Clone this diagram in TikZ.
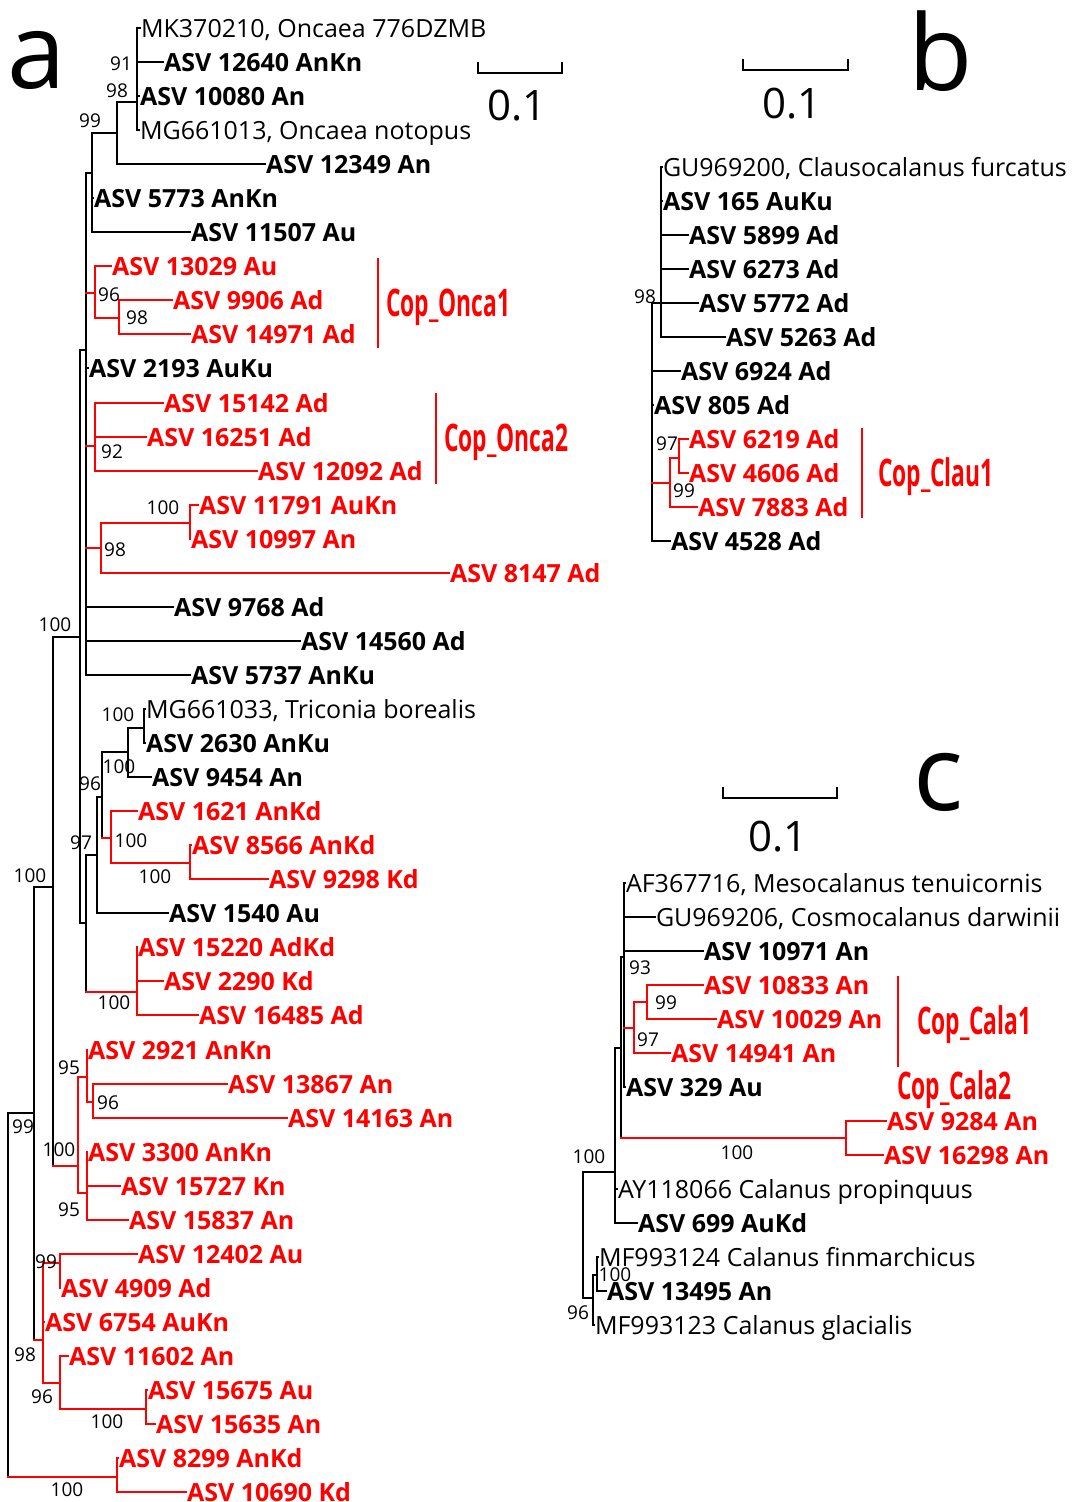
\documentclass[tikz,border=0pt]{standalone}
\usepackage{fontspec}
\setmainfont{Open Sans}
\usepackage{graphicx}
\begin{document}
\begin{tikzpicture}[x=1pt, y=-1pt, line width=2pt, line cap=rect,
    leaf/.style={anchor=west, inner sep=0pt, text height=18pt, text depth=0pt,
      font=\fontsize{25}{30}\selectfont\bfseries},
    rleaf/.style={leaf, text=red},
    ref/.style={leaf, font=\fontsize{25}{30}\selectfont},
    boot/.style={inner sep=0pt, font=\fontsize{19}{22}\selectfont},
    clade/.style={anchor=base west, inner sep=0pt, text=red,
      font=\fontsize{38}{40}\selectfont\bfseries},
    bar/.style={red, line width=1.5pt, line cap=butt},
    panel/.style={anchor=base west, inner sep=0pt, font=\fontsize{105}{110}\selectfont},
    scaletxt/.style={anchor=base, inner sep=0pt, font=\fontsize{42}{46}\selectfont}]
  \useasboundingbox (0,0) rectangle (1079,1502);

  % panel letters and scale bars
  \node[panel] (pa) at (7,88) {a};
  \node[panel] (pb) at (907,90) {b};
  \node[panel] (pc) at (912,810) {c};
  \draw (478,63) -- (478,73) -- (562,73) -- (562,63);
  \node[scaletxt] (sa) at (517,120) {0.1};
  \draw (743,60) -- (743,70) -- (848,70) -- (848,60);
  \node[scaletxt] (sb) at (792,118) {0.1};
  \draw (723,788) -- (723,798) -- (837,798) -- (837,788);
  \node[scaletxt] (sc) at (778,851) {0.1};

  % ---------------- tree a ----------------
  \node[ref]   (aMK)    at (140,28)   {MK370210, Oncaea 776DZMB};
  \node[leaf]  (a12640) at (163,62)   {ASV 12640 AnKn};
  \node[leaf]  (a10080) at (139,96)   {ASV 10080 An};
  \node[ref]   (aMG13)  at (139,130)  {MG661013, Oncaea notopus};
  \node[leaf]  (a12349) at (265,164)  {ASV 12349 An};
  \node[leaf]  (a5773)  at (93,198)   {ASV 5773 AnKn};
  \node[leaf]  (a11507) at (190,232)  {ASV 11507 Au};
  \node[rleaf] (a13029) at (111,266)  {ASV 13029 Au};
  \node[rleaf] (a9906)  at (172,300)  {ASV 9906 Ad};
  \node[rleaf] (a14971) at (190,334)  {ASV 14971 Ad};
  \node[leaf]  (a2193)  at (88,368)   {ASV 2193 AuKu};
  \node[rleaf] (a15142) at (163,403)  {ASV 15142 Ad};
  \node[rleaf] (a16251) at (146,437)  {ASV 16251 Ad};
  \node[rleaf] (a12092) at (257,471)  {ASV 12092 Ad};
  \node[rleaf] (a11791) at (198,505)  {ASV 11791 AuKn};
  \node[rleaf] (a10997) at (190,539)  {ASV 10997 An};
  \node[rleaf] (a8147)  at (449,573)  {ASV 8147 Ad};
  \node[leaf]  (a9768)  at (173,607)  {ASV 9768 Ad};
  \node[leaf]  (a14560) at (300,641)  {ASV 14560 Ad};
  \node[leaf]  (a5737)  at (190,675)  {ASV 5737 AnKu};
  \node[ref]   (aMG33)  at (145,709)  {MG661033, Triconia borealis};
  \node[leaf]  (a2630)  at (145,743)  {ASV 2630 AnKu};
  \node[leaf]  (a9454)  at (151,777)  {ASV 9454 An};
  \node[rleaf] (a1621)  at (137,811)  {ASV 1621 AnKd};
  \node[rleaf] (a8566)  at (191,845)  {ASV 8566 AnKd};
  \node[rleaf] (a9298)  at (268,879)  {ASV 9298 Kd};
  \node[leaf]  (a1540)  at (168,913)  {ASV 1540 Au};
  \node[rleaf] (a15220) at (137,947)  {ASV 15220 AdKd};
  \node[rleaf] (a2290)  at (163,981)  {ASV 2290 Kd};
  \node[rleaf] (a16485) at (198,1015) {ASV 16485 Ad};
  \node[rleaf] (a2921)  at (87,1050)  {ASV 2921 AnKn};
  \node[rleaf] (a13867) at (227,1084) {ASV 13867 An};
  \node[rleaf] (a14163) at (287,1118) {ASV 14163 An};
  \node[rleaf] (a3300)  at (87,1152)  {ASV 3300 AnKn};
  \node[rleaf] (a15727) at (120,1186) {ASV 15727 Kn};
  \node[rleaf] (a15837) at (128,1220) {ASV 15837 An};
  \node[rleaf] (a12402) at (137,1254) {ASV 12402 Au};
  \node[rleaf] (a4909)  at (60,1288)  {ASV 4909 Ad};
  \node[rleaf] (a6754)  at (44,1322)  {ASV 6754 AuKn};
  \node[rleaf] (a11602) at (68,1356)  {ASV 11602 An};
  \node[rleaf] (a15675) at (147,1390) {ASV 15675 Au};
  \node[rleaf] (a15635) at (155,1424) {ASV 15635 An};
  \node[rleaf] (a8299)  at (118,1458) {ASV 8299 AnKd};
  \node[rleaf] (a10690) at (186,1492) {ASV 10690 Kd};

  \coordinate (aR)   at (8,1113);
  \coordinate (aA)   at (34,1113);
  \coordinate (aB)   at (53,887);
  \coordinate (aC)   at (80,637);
  \coordinate (aD)   at (86,350);
  \coordinate (aE)   at (92,173);
  \coordinate (aE2)  at (117,133);
  \coordinate (aE3)  at (137,102);
  \coordinate (aO1)  at (95,293);
  \coordinate (aO1b) at (119,318);
  \coordinate (aO2)  at (95,446);
  \coordinate (aF)   at (101,548);
  \coordinate (aF2)  at (190,523);
  \coordinate (aH)   at (86,923);
  \coordinate (aG)   at (97,855);
  \coordinate (aG2)  at (102,797);
  \coordinate (aG3)  at (128,752);
  \coordinate (aG4)  at (144,728);
  \coordinate (aI)   at (111,838);
  \coordinate (aI2)  at (190,863);
  \coordinate (aJ)   at (137,992);
  \coordinate (aK)   at (78,1166);
  \coordinate (aK1)  at (87,1077);
  \coordinate (aK1b) at (93,1102);
  \coordinate (aK2)  at (87,1193);
  \coordinate (aQ)   at (43,1340);
  \coordinate (aQ1)  at (60,1263);
  \coordinate (aQ2)  at (60,1383);
  \coordinate (aQ3)  at (146,1409);
  \coordinate (aP)   at (117,1477);

  % backbone
  \draw (aR |- aA) -- (aR |- aP);
  \draw (aR |- aA) -- (aA);
  \draw[red] (aR |- aP) -- (aP);
  \draw (aA |- aB) -- (aA |- aQ);
  \draw (aA |- aB) -- (aB);
  \draw[red] (aA |- aQ) -- (aQ);
  \draw (aB |- aC) -- (aB |- aK);
  \draw (aB |- aC) -- (aC);
  \draw[red] (aB |- aK) -- (aK);
  \draw (aC |- aD) -- (aC |- aH);
  \draw (aC |- aD) -- (aD);
  \draw (aC |- aH) -- (aH);

  % upper polytomy
  \draw (aD |- aE) -- (aD |- a5737);
  \draw (aD |- aE) -- (aE);
  \draw[red] (aD |- aO1) -- (aO1);
  \draw (aD |- a2193) -- (a2193.west);
  \draw[red] (aD |- aO2) -- (aO2);
  \draw[red] (aD |- aF) -- (aF);
  \draw (aD |- a9768) -- (a9768.west);
  \draw (aD |- a14560) -- (a14560.west);
  \draw (aD |- a5737) -- (a5737.west);
  \draw (aE |- aE2) -- (aE |- a11507);
  \draw (aE |- aE2) -- (aE2);
  \draw (aE |- a5773) -- (a5773.west);
  \draw (aE |- a11507) -- (a11507.west);
  \draw (aE2 |- aE3) -- (aE2 |- a12349);
  \draw (aE2 |- aE3) -- (aE3);
  \draw (aE2 |- a12349) -- (a12349.west);
  \draw (aE3 |- aMK) -- (aE3 |- aMG13);
  \draw (aE3 |- aMK) -- (aMK.west);
  \draw (aE3 |- a12640) -- (a12640.west);
  \draw (aE3 |- a10080) -- (a10080.west);
  \draw (aE3 |- aMG13) -- (aMG13.west);
  \begin{scope}[red]
    \draw (aO1 |- a13029) -- (aO1 |- aO1b);
    \draw (aO1 |- a13029) -- (a13029.west);
    \draw (aO1 |- aO1b) -- (aO1b);
    \draw (aO1b |- a9906) -- (aO1b |- a14971);
    \draw (aO1b |- a9906) -- (a9906.west);
    \draw (aO1b |- a14971) -- (a14971.west);
    \draw (aO2 |- a15142) -- (aO2 |- a12092);
    \draw (aO2 |- a15142) -- (a15142.west);
    \draw (aO2 |- a16251) -- (a16251.west);
    \draw (aO2 |- a12092) -- (a12092.west);
    \draw (aF |- aF2) -- (aF |- a8147);
    \draw (aF |- aF2) -- (aF2);
    \draw (aF |- a8147) -- (a8147.west);
    \draw (aF2 |- a11791) -- (aF2 |- a10997);
    \draw (aF2 |- a11791) -- (a11791.west);
    \draw (aF2 |- a10997) -- (a10997.west);
  \end{scope}

  % lower clade
  \draw (aH |- aG) -- (aH |- aJ);
  \draw (aH |- aG) -- (aG);
  \draw[red] (aH |- aJ) -- (aJ);
  \draw (aG |- aG2) -- (aG |- a1540);
  \draw (aG |- aG2) -- (aG2);
  \draw (aG |- a1540) -- (a1540.west);
  \draw (aG2 |- aG3) -- (aG2 |- aI);
  \draw (aG2 |- aG3) -- (aG3);
  \draw[red] (aG2 |- aI) -- (aI);
  \draw (aG3 |- aG4) -- (aG3 |- a9454);
  \draw (aG3 |- aG4) -- (aG4);
  \draw (aG3 |- a9454) -- (a9454.west);
  \draw (aG4 |- aMG33) -- (aG4 |- a2630);
  \draw (aG4 |- aMG33) -- (aMG33.west);
  \draw (aG4 |- a2630) -- (a2630.west);
  \begin{scope}[red]
    \draw (aI |- a1621) -- (aI |- aI2);
    \draw (aI |- a1621) -- (a1621.west);
    \draw (aI |- aI2) -- (aI2);
    \draw (aI2 |- a8566) -- (aI2 |- a9298);
    \draw (aI2 |- a8566) -- (a8566.west);
    \draw (aI2 |- a9298) -- (a9298.west);
    \draw (aJ |- a15220) -- (aJ |- a16485);
    \draw (aJ |- a15220) -- (a15220.west);
    \draw (aJ |- a2290) -- (a2290.west);
    \draw (aJ |- a16485) -- (a16485.west);
    \draw (aK |- aK1) -- (aK |- aK2);
    \draw (aK |- aK1) -- (aK1);
    \draw (aK |- aK2) -- (aK2);
    \draw (aK1 |- a2921) -- (aK1 |- aK1b);
    \draw (aK1 |- a2921) -- (a2921.west);
    \draw (aK1 |- aK1b) -- (aK1b);
    \draw (aK1b |- a13867) -- (aK1b |- a14163);
    \draw (aK1b |- a13867) -- (a13867.west);
    \draw (aK1b |- a14163) -- (a14163.west);
    \draw (aK2 |- a3300) -- (aK2 |- a15837);
    \draw (aK2 |- a3300) -- (a3300.west);
    \draw (aK2 |- a15727) -- (a15727.west);
    \draw (aK2 |- a15837) -- (a15837.west);
    \draw (aQ |- aQ1) -- (aQ |- aQ2);
    \draw (aQ |- aQ1) -- (aQ1);
    \draw (aQ |- a6754) -- (a6754.west);
    \draw (aQ |- aQ2) -- (aQ2);
    \draw (aQ1 |- a12402) -- (aQ1 |- a4909);
    \draw (aQ1 |- a12402) -- (a12402.west);
    \draw (aQ1 |- a4909) -- (a4909.west);
    \draw (aQ2 |- a11602) -- (aQ2 |- aQ3);
    \draw (aQ2 |- a11602) -- (a11602.west);
    \draw (aQ2 |- aQ3) -- (aQ3);
    \draw (aQ3 |- a15675) -- (aQ3 |- a15635);
    \draw (aQ3 |- a15675) -- (a15675.west);
    \draw (aQ3 |- a15635) -- (a15635.west);
    \draw (aP |- a8299) -- (aP |- a10690);
    \draw (aP |- a8299) -- (a8299.west);
    \draw (aP |- a10690) -- (a10690.west);
  \end{scope}

  % support values a
  \node[boot] (ba1)  at (121,64)   {91};
  \node[boot] (ba2)  at (117,91)   {98};
  \node[boot] (ba3)  at (90,121)   {99};
  \node[boot] (ba4)  at (109,295)  {96};
  \node[boot] (ba5)  at (137,318)  {98};
  \node[boot] (ba6)  at (112,452)  {92};
  \node[boot] (ba7)  at (163,508)  {100};
  \node[boot] (ba8)  at (115,550)  {98};
  \node[boot] (ba9)  at (55,625)   {100};
  \node[boot] (ba10) at (118,715)  {100};
  \node[boot] (ba11) at (119,767)  {100};
  \node[boot] (ba12) at (90,784)   {96};
  \node[boot] (ba13) at (81,843)   {97};
  \node[boot] (ba14) at (131,841)  {100};
  \node[boot] (ba15) at (155,877)  {100};
  \node[boot] (ba16) at (30,876)   {100};
  \node[boot] (ba17) at (114,1003) {100};
  \node[boot] (ba18) at (69,1068)  {95};
  \node[boot] (ba19) at (108,1103) {96};
  \node[boot] (ba20) at (23,1127)  {99};
  \node[boot] (ba21) at (59,1150)  {100};
  \node[boot] (ba22) at (69,1210)  {95};
  \node[boot] (ba23) at (46,1262)  {99};
  \node[boot] (ba24) at (25,1355)  {98};
  \node[boot] (ba25) at (42,1397)  {96};
  \node[boot] (ba26) at (107,1422) {100};
  \node[boot] (ba27) at (67,1490)  {100};

  % clade marks a
  \draw[bar] (378,258) -- (378,348);
  \node[clade] (onca1) at (385,316) {\scalebox{0.6}[1]{Cop\_Onca1}};
  \draw[bar] (436,393) -- (436,484);
  \node[clade] (onca2) at (443,451) {\scalebox{0.6}[1]{Cop\_Onca2}};

  % ---------------- tree b ----------------
  \node[ref]   (bGU)   at (662,167) {GU969200, Clausocalanus furcatus};
  \node[leaf]  (b165)  at (662,201) {ASV 165 AuKu};
  \node[leaf]  (b5899) at (688,235) {ASV 5899 Ad};
  \node[leaf]  (b6273) at (688,269) {ASV 6273 Ad};
  \node[leaf]  (b5772) at (698,303) {ASV 5772 Ad};
  \node[leaf]  (b5263) at (725,337) {ASV 5263 Ad};
  \node[leaf]  (b6924) at (680,371) {ASV 6924 Ad};
  \node[leaf]  (b805)  at (653,405) {ASV 805 Ad};
  \node[rleaf] (b6219) at (688,439) {ASV 6219 Ad};
  \node[rleaf] (b4606) at (688,473) {ASV 4606 Ad};
  \node[rleaf] (b7883) at (697,507) {ASV 7883 Ad};
  \node[leaf]  (b4528) at (670,541) {ASV 4528 Ad};

  \coordinate (bR)  at (652,303);
  \coordinate (bA)  at (661,303);
  \coordinate (bB)  at (670,483);
  \coordinate (bB1) at (679,458);

  \draw (bR |- bA) -- (bR |- b4528);
  \draw (bR |- bA) -- (bA);
  \draw (bR |- b6924) -- (b6924.west);
  \draw (bR |- b805) -- (b805.west);
  \draw[red] (bR |- bB) -- (bB);
  \draw (bR |- b4528) -- (b4528.west);
  \draw (bA |- bGU) -- (bA |- b5263);
  \draw (bA |- bGU) -- (bGU.west);
  \draw (bA |- b165) -- (b165.west);
  \draw (bA |- b5899) -- (b5899.west);
  \draw (bA |- b6273) -- (b6273.west);
  \draw (bA |- b5772) -- (b5772.west);
  \draw (bA |- b5263) -- (b5263.west);
  \begin{scope}[red]
    \draw (bB |- bB1) -- (bB |- b7883);
    \draw (bB |- bB1) -- (bB1);
    \draw (bB |- b7883) -- (b7883.west);
    \draw (bB1 |- b6219) -- (bB1 |- b4606);
    \draw (bB1 |- b6219) -- (b6219.west);
    \draw (bB1 |- b4606) -- (b4606.west);
  \end{scope}

  \node[boot] (bb1) at (645,297) {98};
  \node[boot] (bb2) at (667,444) {97};
  \node[boot] (bb3) at (684,491) {99};

  \draw[bar] (862,428) -- (862,518);
  \node[clade] (clau1) at (877,486) {\scalebox{0.6}[1]{Cop\_Clau1}};

  % ---------------- tree c ----------------
  \node[ref]   (cAF)    at (625,883)  {AF367716, Mesocalanus tenuicornis};
  \node[ref]   (cGU)    at (655,917)  {GU969206, Cosmocalanus darwinii};
  \node[leaf]  (c10971) at (703,951)  {ASV 10971 An};
  \node[rleaf] (c10833) at (703,985)  {ASV 10833 An};
  \node[rleaf] (c10029) at (716,1019) {ASV 10029 An};
  \node[rleaf] (c14941) at (670,1053) {ASV 14941 An};
  \node[leaf]  (c329)   at (625,1087) {ASV 329 Au};
  \node[rleaf] (c9284)  at (886,1121) {ASV 9284 An};
  \node[rleaf] (c16298) at (883,1155) {ASV 16298 An};
  \node[ref]   (cAY)    at (617,1189) {AY118066 Calanus propinquus};
  \node[leaf]  (c699)   at (637,1223) {ASV 699 AuKd};
  \node[ref]   (cMF24)  at (598,1257) {MF993124 Calanus finmarchicus};
  \node[leaf]  (c13495) at (606,1291) {ASV 13495 An};
  \node[ref]   (cMF23)  at (594,1325) {MF993123 Calanus glacialis};

  \coordinate (cR)  at (583,1172);
  \coordinate (cA)  at (615,1172);
  \coordinate (cB)  at (621,1048);
  \coordinate (cC)  at (624,957);
  \coordinate (cF)  at (634,1028);
  \coordinate (cF1) at (647,1002);
  \coordinate (cE)  at (846,1138);
  \coordinate (cD)  at (593,1298);
  \coordinate (cD1) at (597,1275);

  \draw (cR |- cA) -- (cR |- cD);
  \draw (cR |- cA) -- (cA);
  \draw (cR |- cD) -- (cD);
  \draw (cA |- cB) -- (cA |- c699);
  \draw (cA |- cB) -- (cB);
  \draw (cA |- cAY) -- (cAY.west);
  \draw (cA |- c699) -- (c699.west);
  \draw (cB |- cC) -- (cB |- cE);
  \draw (cB |- cC) -- (cC);
  \draw[red] (cB |- cE) -- (cE);
  \draw (cC |- cAF) -- (cC |- c329);
  \draw (cC |- cAF) -- (cAF.west);
  \draw (cC |- cGU) -- (cGU.west);
  \draw (cC |- c10971) -- (c10971.west);
  \draw[red] (cC |- cF) -- (cF);
  \draw (cC |- c329) -- (c329.west);
  \draw (cD |- cD1) -- (cD |- cMF23);
  \draw (cD |- cD1) -- (cD1);
  \draw (cD |- cMF23) -- (cMF23.west);
  \draw (cD1 |- cMF24) -- (cD1 |- c13495);
  \draw (cD1 |- cMF24) -- (cMF24.west);
  \draw (cD1 |- c13495) -- (c13495.west);
  \begin{scope}[red]
    \draw (cF |- cF1) -- (cF |- c14941);
    \draw (cF |- cF1) -- (cF1);
    \draw (cF |- c14941) -- (c14941.west);
    \draw (cF1 |- c10833) -- (cF1 |- c10029);
    \draw (cF1 |- c10833) -- (c10833.west);
    \draw (cF1 |- c10029) -- (c10029.west);
    \draw (cE |- c9284) -- (cE |- c16298);
    \draw (cE |- c9284) -- (c9284.west);
    \draw (cE |- c16298) -- (c16298.west);
  \end{scope}

  \node[boot] (bc1) at (640,968)  {93};
  \node[boot] (bc2) at (666,1003) {99};
  \node[boot] (bc3) at (648,1040) {97};
  \node[boot] (bc4) at (737,1153) {100};
  \node[boot] (bc5) at (589,1157) {100};
  \node[boot] (bc6) at (615,1275) {100};
  \node[boot] (bc7) at (578,1313) {96};

  \draw[bar] (898,976) -- (898,1067);
  \node[clade] (cala1) at (916,1034) {\scalebox{0.6}[1]{Cop\_Cala1}};
  \node[clade] (cala2) at (896,1099) {\scalebox{0.6}[1]{Cop\_Cala2}};
\end{tikzpicture}
\end{document}
